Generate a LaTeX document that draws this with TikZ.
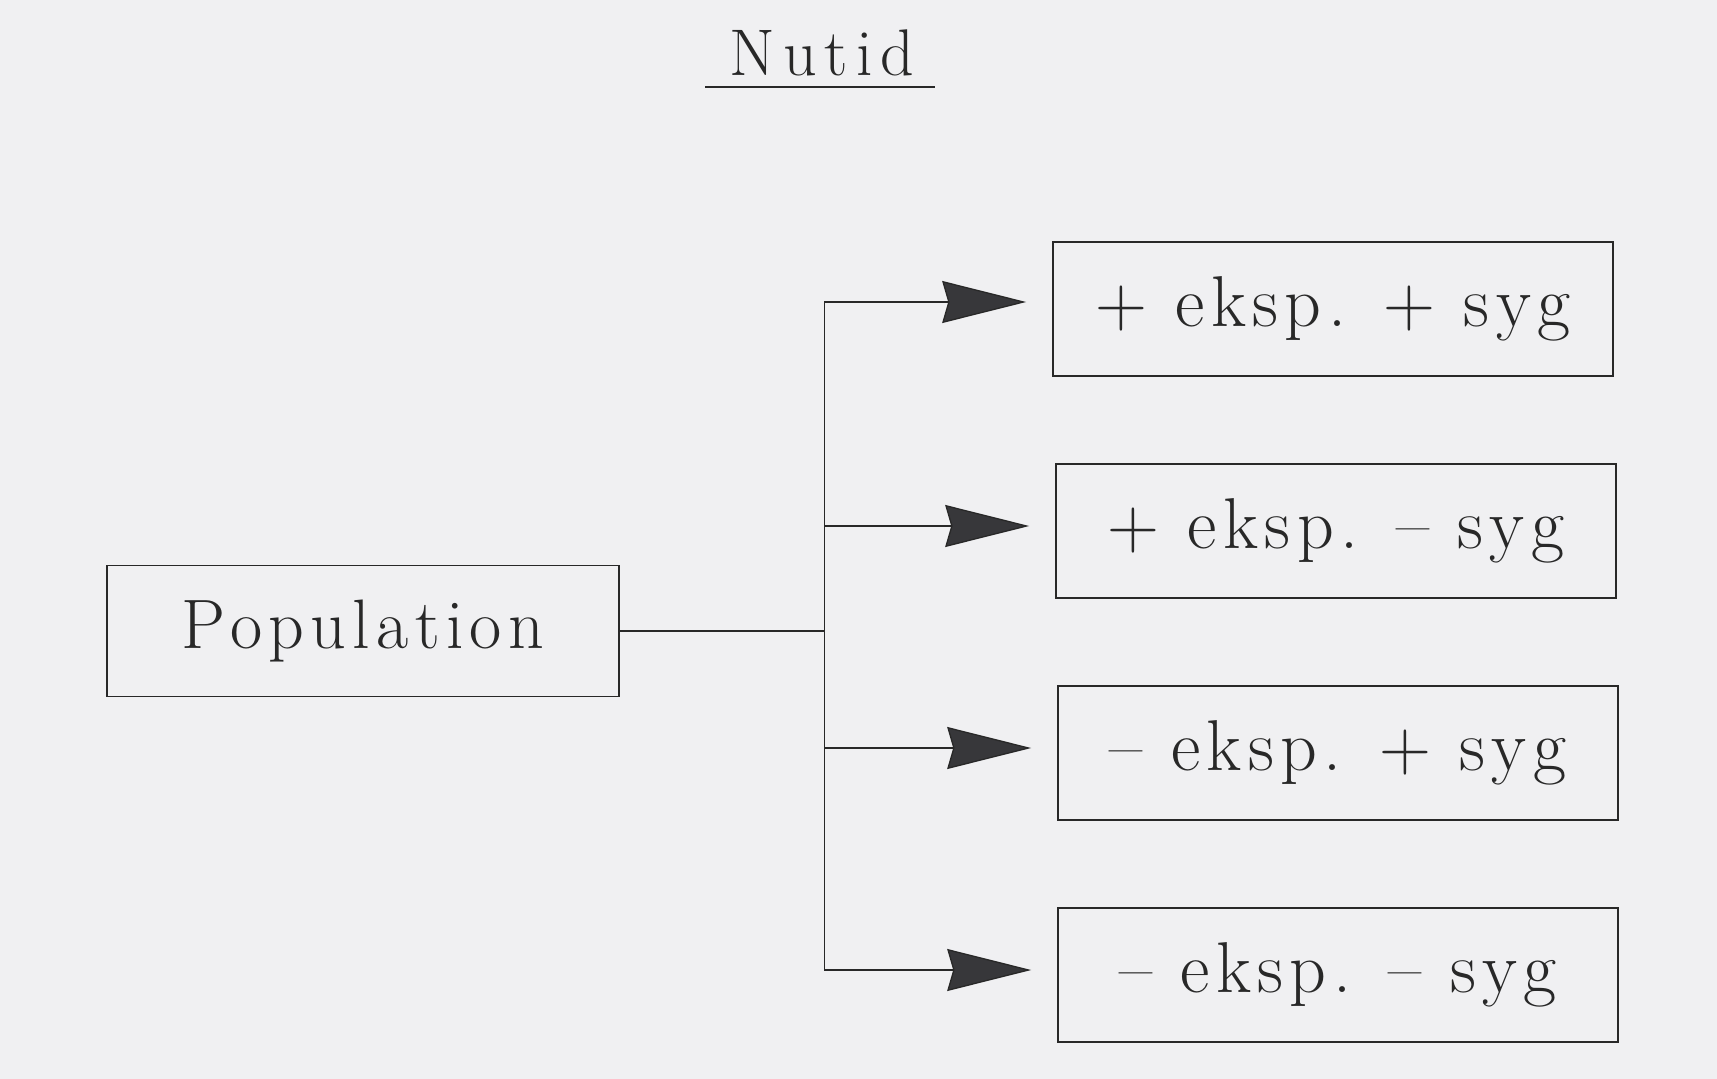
\documentclass[tikz,border=0pt]{standalone}
\usepackage{fontspec}
\newfontfamily\wideserif[LetterSpace=9]{Latin Modern Roman}
\newfontfamily\titleserif[LetterSpace=12]{Latin Modern Roman}
\usetikzlibrary{arrows.meta}
\definecolor{paper}{RGB}{240,240,242}
\definecolor{ink}{RGB}{40,40,40}
\definecolor{headfill}{RGB}{55,55,58}
\tikzset{
  box/.style={draw=ink, line width=1.6pt, minimum width=560pt, minimum height=134pt, inner sep=0pt,
    font=\wideserif\fontsize{72}{86}\selectfont, text=ink},
  popbox/.style={box, minimum width=512pt, minimum height=131pt, font=\wideserif\fontsize{70}{84}\selectfont},
  conn/.style={draw=ink, line width=1.3pt},
  arr/.style={conn, -{Stealth[length=84pt, width=42pt, inset=6pt, fill=headfill]}, shorten >=26pt},
}
\begin{document}
\begin{tikzpicture}[x=1pt, y=-1pt]
\fill[paper] (0,0) rectangle (1717,1079);
\useasboundingbox (0,0) rectangle (1717,1079);
\node[font=\titleserif\fontsize{66}{78}\selectfont, text=ink, anchor=base] (title) at (822,75) {Nutid};
\draw[ink, line width=1.6pt] (705,87) -- (935,87);
\node[popbox] (pop) at (363,631) {Population};
\node[box] (b1) at (1333,309) {+ eksp. + syg};
\node[box] (b2) at (1336,531) {+ eksp. – syg};
\node[box] (b3) at (1338,753) {– eksp. + syg};
\node[box] (b4) at (1338,975) {– eksp. – syg};
\path (pop.east) -- ++(205,0) coordinate (j);
\draw[conn] (pop.east) -- (j);
\draw[arr] (j) |- ([yshift=7pt]b1.west);
\draw[arr] (j) |- ([yshift=5pt]b2.west);
\draw[arr] (j) |- ([yshift=5pt]b3.west);
\draw[arr] (j) |- ([yshift=5pt]b4.west);
\end{tikzpicture}
\end{document}
